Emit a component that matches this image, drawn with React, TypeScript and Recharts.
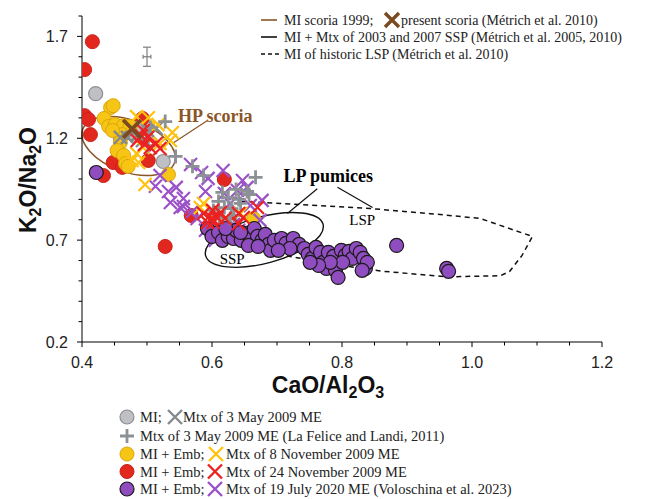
import React from 'react';
import {
  ScatterChart,
  Scatter,
  XAxis,
  YAxis,
  ReferenceArea,
  ReferenceLine,
  ReferenceDot,
  ErrorBar,
} from 'recharts';

// ---------- axis ticks ----------
const xTicks = [0.4, 0.45, 0.5, 0.55, 0.6, 0.65, 0.7, 0.75, 0.8, 0.85, 0.9, 0.95, 1.0, 1.05, 1.1, 1.15, 1.2];
const xMajor = [0.4, 0.6, 0.8, 1.0, 1.2];
const yTicks = [0.2, 0.3, 0.4, 0.5, 0.6, 0.7, 0.8, 0.9, 1.0, 1.1, 1.2, 1.3, 1.4, 1.5, 1.6, 1.7, 1.8];
const yMajor = [0.2, 0.7, 1.2, 1.7];

// ---------- data (CaO/Al2O3, K2O/Na2O) ----------
const grayMI = [
  [0.421, 1.419], [0.525, 1.086], [0.459, 1.199], [0.474, 1.228], [0.485, 1.248],
];
const grayMtx = [
  [0.47, 1.204], [0.485, 1.213], [0.493, 1.189], [0.501, 1.238], [0.505, 1.223], [0.459, 1.204], [0.514, 1.248],
];
const laFeliceMtx = [
  [0.528, 1.282], [0.502, 1.164], [0.544, 1.111], [0.57, 1.062], [0.587, 1.017], [0.667, 1.008],
  [0.654, 0.939], [0.637, 0.949], [0.616, 0.934], [0.625, 0.909], [0.641, 0.9], [0.61, 0.89],
  [0.619, 0.86], [0.63, 0.855], [0.634, 0.821], [0.644, 0.88], [0.657, 0.924], [0.602, 0.846],
  [0.611, 0.811], [0.628, 0.806], [0.493, 1.223], [0.505, 1.253],
];
const novMI8 = [
  [0.444, 1.351], [0.448, 1.36], [0.434, 1.297], [0.441, 1.258], [0.451, 1.267], [0.464, 1.262],
  [0.474, 1.258], [0.462, 1.218], [0.459, 1.179], [0.454, 1.14], [0.464, 1.116], [0.467, 1.076],
  [0.471, 1.062], [0.533, 1.022], [0.664, 0.806], [0.447, 1.238],
];
const novMtx8 = [
  [0.484, 1.306], [0.502, 1.301], [0.517, 1.267], [0.539, 1.228], [0.536, 1.189], [0.52, 1.174],
  [0.494, 1.155], [0.484, 1.125], [0.477, 1.091], [0.487, 1.081], [0.497, 0.973], [0.582, 0.86],
  [0.587, 0.88], [0.605, 0.831], [0.644, 0.831],
];
const novMI24 = [
  [0.416, 1.674], [0.404, 1.537], [0.404, 1.311], [0.41, 1.292], [0.413, 1.218], [0.433, 1.017],
  [0.448, 1.081], [0.462, 1.057], [0.502, 1.091], [0.493, 1.297], [0.619, 0.998], [0.568, 0.821],
  [0.528, 0.669],
];
const novMtx24 = [
  [0.485, 1.189], [0.491, 1.213], [0.501, 1.204], [0.496, 1.169], [0.505, 1.155], [0.514, 1.174],
  [0.52, 1.15], [0.494, 1.238], [0.587, 0.831], [0.594, 0.811], [0.6, 0.806], [0.608, 0.811],
  [0.602, 0.787], [0.613, 0.836], [0.593, 0.787], [0.62, 0.806], [0.641, 0.831], [0.67, 0.86],
  [0.648, 0.811], [0.641, 0.782], [0.601, 0.846],
];
const julMI = [
  [0.422, 1.032], [0.593, 0.757], [0.6, 0.718], [0.61, 0.738], [0.616, 0.699], [0.625, 0.718],
  [0.633, 0.708], [0.637, 0.748], [0.645, 0.699], [0.653, 0.733], [0.659, 0.708], [0.665, 0.757],
  [0.67, 0.718], [0.677, 0.699], [0.682, 0.728], [0.687, 0.679], [0.69, 0.65], [0.696, 0.699],
  [0.707, 0.708], [0.714, 0.684], [0.725, 0.708], [0.734, 0.679], [0.742, 0.659], [0.748, 0.63],
  [0.754, 0.61], [0.76, 0.664], [0.767, 0.64], [0.771, 0.591], [0.776, 0.561], [0.779, 0.64],
  [0.787, 0.62], [0.79, 0.552], [0.794, 0.517], [0.799, 0.65], [0.805, 0.625], [0.811, 0.645],
  [0.816, 0.61], [0.822, 0.659], [0.828, 0.64], [0.833, 0.61], [0.836, 0.561], [0.839, 0.591],
  [0.831, 0.552], [0.884, 0.674], [0.961, 0.561], [0.964, 0.547], [0.801, 0.591], [0.782, 0.591],
  [0.764, 0.576], [0.751, 0.591], [0.72, 0.659], [0.702, 0.65], [0.644, 0.738], [0.621, 0.757],
  [0.656, 0.674], [0.671, 0.669],
];
const julMtx = [
  [0.513, 0.964], [0.52, 1.017], [0.533, 0.939], [0.545, 0.959], [0.556, 0.904], [0.567, 1.071],
  [0.584, 1.032], [0.59, 0.939], [0.594, 1.003], [0.617, 1.042], [0.619, 0.929], [0.628, 0.88],
  [0.639, 0.944], [0.647, 0.993], [0.654, 0.959], [0.659, 0.87], [0.674, 0.797], [0.677, 0.895],
  [0.556, 0.865], [0.57, 0.841], [0.577, 0.806], [0.59, 0.748], [0.607, 0.772], [0.633, 0.777],
  [0.605, 0.699], [0.641, 0.748], [0.662, 0.723], [0.536, 0.885], [0.551, 0.86],
];
const presentScoria = [[0.477, 1.246]];
const errorBarPoint = [{ x: 0.5, y: 1.6, ex: 0.006, ey: 0.047 }];

// historic LSP field (dashed outline)
const lspOutline = [
  [0.6435, 0.89], [0.736, 0.875], [0.8435, 0.855], [0.936, 0.83], [1.013, 0.806], [1.093, 0.718],
  [1.077, 0.625], [1.058, 0.547], [1.0435, 0.525], [0.962, 0.52], [0.8635, 0.547], [0.787, 0.581],
  [0.72, 0.62], [0.674, 0.654],
];

// ellipse fields: bounding box (unrotated) in data units
const hpEllipse = { x1: 0.3966, x2: 0.5468, y1: 1.0348, y2: 1.2888 };
const sspEllipse = { x1: 0.587, x2: 0.774, y1: 0.587, y2: 0.815 };

const toPts = (arr: number[][]) => arr.map(([x, y]) => ({ x, y }));

// ---------- styles ----------
const SANS = '"Liberation Sans", Arial, Helvetica, sans-serif';
const SERIF = '"Liberation Serif", "Times New Roman", Times, serif';

const C = {
  grayFill: '#bfc0c4',
  grayStroke: '#8e8f93',
  grayX: '#85898d',
  grayPlus: '#8c9196',
  yellow: '#f7c516',
  yellowStroke: '#dba60a',
  yellowX: '#ffc20e',
  red: '#e2281e',
  redStroke: '#c8201a',
  redX: '#ec2222',
  purple: '#8f4dbf',
  purpleX: '#9b52c9',
  brown: '#8a5627',
  brownX: '#7a4a20',
};

const circleShape = (fill: string, stroke: string, sw: number) => (p: any) =>
  <circle cx={p.cx} cy={p.cy} r={7} fill={fill} stroke={stroke} strokeWidth={sw} />;

const xShape = (color: string, h: number, sw: number) => (p: any) => (
  <path
    d={`M${p.cx - h},${p.cy - h}L${p.cx + h},${p.cy + h}M${p.cx - h},${p.cy + h}L${p.cx + h},${p.cy - h}`}
    stroke={color}
    strokeWidth={sw}
    fill="none"
  />
);

const plusShape = (color: string, h: number, sw: number) => (p: any) => (
  <path
    d={`M${p.cx - h},${p.cy}L${p.cx + h},${p.cy}M${p.cx},${p.cy - h}L${p.cx},${p.cy + h}`}
    stroke={color}
    strokeWidth={sw}
    fill="none"
  />
);

const noShape = () => <g />;

const near = (arr: number[], v: number) => arr.some((m) => Math.abs(m - v) < 1e-6);

const XTick = (props: any) => {
  const { x, y, payload } = props;
  const v = payload.value as number;
  const major = near(xMajor, v);
  return (
    <g>
      <line x1={x} x2={x} y1={y} y2={y + (major ? 5 : 3.5)} stroke="#000" strokeWidth={1} />
      {major && (
        <text x={x} y={y + 26} textAnchor="middle" fontFamily={SANS} fontSize={16} fill="#222">
          {v.toFixed(1)}
        </text>
      )}
    </g>
  );
};

const YTick = (props: any) => {
  const { x, y, payload } = props;
  const v = payload.value as number;
  const major = near(yMajor, v);
  return (
    <g>
      <line x1={x} x2={x - (major ? 5 : 3.5)} y1={y} y2={y} stroke="#000" strokeWidth={1} />
      {major && (
        <text x={x - 14} y={y} dy="0.35em" textAnchor="end" fontFamily={SANS} fontSize={16} fill="#222">
          {v.toFixed(1)}
        </text>
      )}
    </g>
  );
};

const ellipseShape = (stroke: string, angle: number, sw: number) => (p: any) => {
  const cx = p.x + p.width / 2;
  const cy = p.y + p.height / 2;
  return (
    <ellipse
      cx={cx}
      cy={cy}
      rx={Math.abs(p.width) / 2}
      ry={Math.abs(p.height) / 2}
      fill="none"
      stroke={stroke}
      strokeWidth={sw}
      transform={`rotate(${angle} ${cx} ${cy})`}
    />
  );
};

const textShape = (label: string, opts: { size: number; weight?: string; color?: string }) => (p: any) => (
  <text
    x={p.cx}
    y={p.cy}
    dy="0.35em"
    textAnchor="middle"
    fontFamily={SERIF}
    fontSize={opts.size}
    fontWeight={opts.weight || 'normal'}
    fill={opts.color || '#000'}
  >
    {label}
  </text>
);

const legendText = { fontFamily: SERIF, fontSize: 14, fill: '#222' } as const;
const legendText2 = { fontFamily: SERIF, fontSize: 14.5, fill: '#222' } as const;

const XMark = ({ x, y, h, color, sw }: any) => (
  <path d={`M${x - h},${y - h}L${x + h},${y + h}M${x - h},${y + h}L${x + h},${y - h}`} stroke={color} strokeWidth={sw} fill="none" />
);

export default function App() {
  return (
    <div style={{ position: 'absolute', left: 0, top: 0, width: 646, height: 499, background: '#fff' }}>
      <ScatterChart width={646} height={499} margin={{ top: 16, right: 44, bottom: 127, left: 0 }}>
        <XAxis
          type="number"
          dataKey="x"
          domain={[0.4, 1.2]}
          ticks={xTicks}
          interval={0}
          allowDataOverflow
          height={30}
          tickSize={0}
          tickMargin={0}
          tickLine={false}
          axisLine={{ stroke: '#000', strokeWidth: 1 }}
          tick={<XTick />}
        />
        <YAxis
          type="number"
          dataKey="y"
          domain={[0.2, 1.8]}
          ticks={yTicks}
          interval={0}
          allowDataOverflow
          width={82}
          tickSize={0}
          tickMargin={0}
          tickLine={false}
          axisLine={{ stroke: '#000', strokeWidth: 1 }}
          tick={<YTick />}
        />

        <ReferenceArea {...hpEllipse} ifOverflow="visible" shape={ellipseShape(C.brown, 20, 1.5)} />
        <ReferenceArea {...sspEllipse} ifOverflow="visible" shape={ellipseShape('#111', -15, 1.4)} />

        <Scatter
          data={toPts(lspOutline)}
          isAnimationActive={false}
          shape={noShape}
          line={{ stroke: '#111', strokeWidth: 1.5, strokeDasharray: '5 4' }}
          lineJointType="linear"
        />

        <Scatter data={toPts(novMI24)} isAnimationActive={false} shape={circleShape(C.red, C.redStroke, 1)} />
        <Scatter data={toPts(grayMI)} isAnimationActive={false} shape={circleShape(C.grayFill, C.grayStroke, 1.2)} />
        <Scatter data={toPts(novMI8)} isAnimationActive={false} shape={circleShape(C.yellow, C.yellowStroke, 1)} />
        <Scatter data={toPts(julMtx)} isAnimationActive={false} shape={xShape(C.purpleX, 6.5, 2.2)} />
        <Scatter data={toPts(julMI)} isAnimationActive={false} shape={circleShape(C.purple, '#1a1a1a', 1.2)} />
        <Scatter data={toPts(grayMtx)} isAnimationActive={false} shape={xShape(C.grayX, 6.5, 2.4)} />
        <Scatter data={toPts(novMtx8)} isAnimationActive={false} shape={xShape(C.yellowX, 6.5, 2.2)} />
        <Scatter data={toPts(laFeliceMtx)} isAnimationActive={false} shape={plusShape(C.grayPlus, 7, 2.8)} />
        <Scatter data={toPts(novMtx24)} isAnimationActive={false} shape={xShape(C.redX, 6.5, 2.2)} />
        <Scatter data={toPts(presentScoria)} isAnimationActive={false} shape={xShape(C.brownX, 9, 3.6)} />

        <Scatter data={errorBarPoint} isAnimationActive={false} shape={noShape}>
          <ErrorBar dataKey="ey" direction="y" width={4} stroke="#7d7d7d" strokeWidth={1.2} />
          <ErrorBar dataKey="ex" direction="x" width={2} stroke="#7d7d7d" strokeWidth={1.2} />
        </Scatter>

        <ReferenceLine
          segment={[{ x: 0.539, y: 1.174 }, { x: 0.593, y: 1.287 }]}
          stroke={C.brown}
          strokeWidth={1.2}
          ifOverflow="visible"
        />
        <ReferenceLine
          segment={[{ x: 0.762, y: 0.952 }, { x: 0.716, y: 0.831 }]}
          stroke="#111"
          strokeWidth={1.2}
          ifOverflow="visible"
        />
        <ReferenceLine
          segment={[{ x: 0.793, y: 0.959 }, { x: 0.847, y: 0.86 }]}
          stroke="#111"
          strokeWidth={1.2}
          ifOverflow="visible"
        />

        <ReferenceDot x={0.605} y={1.311} r={0} ifOverflow="visible" shape={textShape('HP scoria', { size: 18, weight: 'bold', color: C.brown })} />
        <ReferenceDot x={0.779} y={1.017} r={0} ifOverflow="visible" shape={textShape('LP pumices', { size: 18, weight: 'bold' })} />
        <ReferenceDot x={0.831} y={0.802} r={0} ifOverflow="visible" shape={textShape('LSP', { size: 15 })} />
        <ReferenceDot x={0.631} y={0.61} r={0} ifOverflow="visible" shape={textShape('SSP', { size: 15 })} />
      </ScatterChart>

      <svg width={646} height={499} style={{ position: 'absolute', left: 0, top: 0, pointerEvents: 'none' }}>
        {/* axis titles */}
        <text x={328} y={393} textAnchor="middle" fontFamily={SANS} fontWeight="bold" fontSize={23} fill="#111">
          CaO/Al<tspan fontSize={16} dy={5}>2</tspan>
          <tspan dy={-5}>O</tspan>
          <tspan fontSize={16} dy={5}>3</tspan>
        </text>
        <text transform="translate(36,180) rotate(-90)" textAnchor="middle" fontFamily={SANS} fontWeight="bold" fontSize={23} fill="#111">
          K<tspan fontSize={16} dy={5}>2</tspan>
          <tspan dy={-5}>O/Na</tspan>
          <tspan fontSize={16} dy={5}>2</tspan>
          <tspan dy={-5}>O</tspan>
        </text>

        {/* top legend */}
        <line x1={261} x2={277} y1={20} y2={20} stroke={C.brown} strokeWidth={1.6} />
        <text x={284} y={25} {...legendText}>MI scoria 1999;</text>
        <XMark x={392} y={20} h={7} color={C.brownX} sw={3.4} />
        <text x={401} y={25} {...legendText}>present scoria (Métrich et al. 2010)</text>
        <line x1={261} x2={277} y1={37} y2={37} stroke="#111" strokeWidth={1.6} />
        <text x={284} y={42} {...legendText}>MI + Mtx of 2003 and 2007 SSP (Métrich et al. 2005, 2010)</text>
        <line x1={261} x2={279} y1={54} y2={54} stroke="#111" strokeWidth={1.6} strokeDasharray="4 3" />
        <text x={284} y={59} {...legendText}>MI of historic LSP (Métrich et al. 2010)</text>

        {/* bottom legend */}
        <circle cx={127} cy={417} r={7} fill={C.grayFill} stroke={C.grayStroke} strokeWidth={1.2} />
        <text x={140} y={422} {...legendText2}>MI;</text>
        <XMark x={175} y={417} h={7} color={C.grayX} sw={2.4} />
        <text x={183} y={422} {...legendText2}>Mtx of 3 May 2009 ME</text>

        <path d="M120,436L134,436M127,429L127,443" stroke={C.grayPlus} strokeWidth={2.8} fill="none" />
        <text x={140} y={441} {...legendText2}>Mtx of 3 May 2009 ME (La Felice and Landi, 2011)</text>

        <circle cx={127} cy={454} r={7} fill={C.yellow} stroke={C.yellowStroke} strokeWidth={1} />
        <text x={140} y={459} {...legendText2}>MI + Emb;</text>
        <XMark x={216} y={454} h={7} color={C.yellowX} sw={2.4} />
        <text x={226} y={459} {...legendText2}>Mtx of 8 November 2009 ME</text>

        <circle cx={127} cy={471.5} r={7} fill={C.red} stroke={C.redStroke} strokeWidth={1} />
        <text x={140} y={476.5} {...legendText2}>MI + Emb;</text>
        <XMark x={215} y={471.5} h={7} color={C.redX} sw={2.4} />
        <text x={226} y={476.5} {...legendText2}>Mtx of 24 November 2009 ME</text>

        <circle cx={127} cy={489} r={7} fill={C.purple} stroke="#1a1a1a" strokeWidth={1.2} />
        <text x={140} y={494} {...legendText2}>MI + Emb;</text>
        <XMark x={215} y={489} h={7} color={C.purpleX} sw={2.4} />
        <text x={226} y={494} {...legendText2}>Mtx of 19 July 2020 ME (Voloschina et al. 2023)</text>
      </svg>
    </div>
  );
}
